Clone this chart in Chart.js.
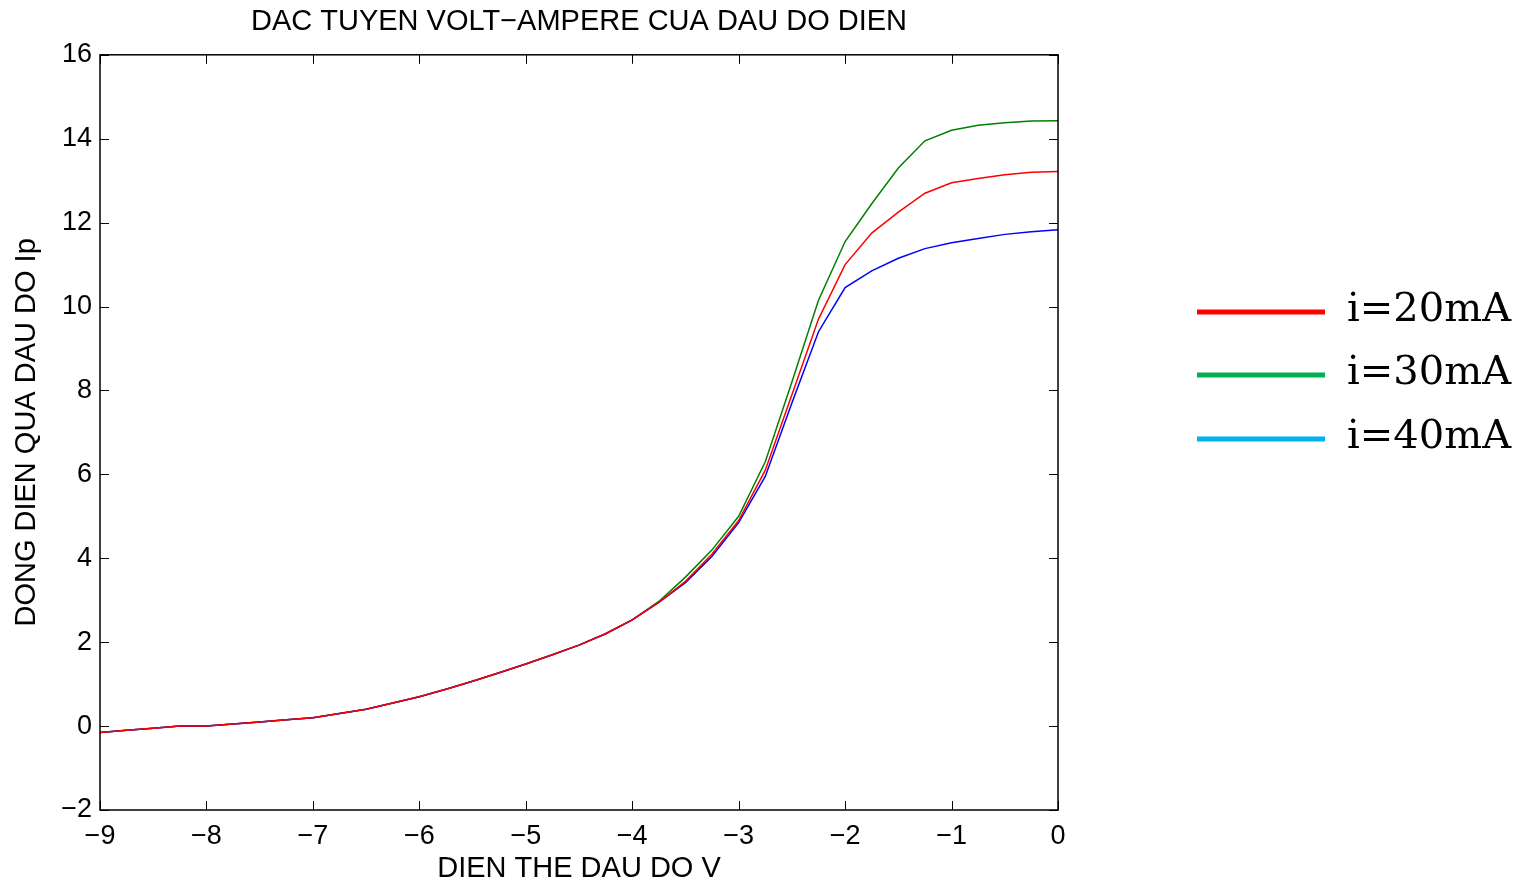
<!DOCTYPE html>
<html>
<head>
<meta charset="utf-8">
<script src="https://cdn.jsdelivr.net/npm/chart.js@4.4.0/dist/chart.umd.min.js"></script>
<style>
  html, body { margin: 0; padding: 0; background: #fff; }
  #wrap { width: 1520px; height: 886px; }
</style>
</head>
<body>
<div id="wrap"><canvas id="myChart"></canvas></div>
<script>
// dien the (V) - every 0.25 V
var voltage = [-9, -8.75, -8.5, -8.25, -8, -7.75, -7.5, -7.25, -7, -6.75, -6.5, -6.25,
  -6, -5.75, -5.5, -5.25, -5, -4.75, -4.5, -4.25, -4, -3.75, -3.5, -3.25,
  -3, -2.75, -2.5, -2.25, -2, -1.75, -1.5, -1.25, -1, -0.75, -0.5, -0.25, 0];

var ip20 = [-0.15, -0.1, -0.05, 0, 0, 0.05, 0.1, 0.15, 0.2, 0.3, 0.4, 0.55,
  0.7, 0.88, 1.07, 1.27, 1.48, 1.7, 1.93, 2.2, 2.53, 2.95, 3.45, 4.1,
  4.9, 6.1, 7.9, 9.7, 11.0, 11.75, 12.25, 12.7, 12.95, 13.05, 13.14, 13.2, 13.22];
var ip30 = [-0.15, -0.1, -0.05, 0, 0, 0.05, 0.1, 0.15, 0.2, 0.3, 0.4, 0.55,
  0.7, 0.88, 1.07, 1.27, 1.48, 1.7, 1.93, 2.2, 2.53, 2.97, 3.55, 4.2,
  5.0, 6.3, 8.2, 10.15, 11.55, 12.45, 13.3, 13.95, 14.2, 14.32, 14.38, 14.42, 14.43];
var ip40 = [-0.15, -0.1, -0.05, 0, 0, 0.05, 0.1, 0.15, 0.2, 0.3, 0.4, 0.55,
  0.7, 0.88, 1.07, 1.27, 1.48, 1.7, 1.93, 2.2, 2.53, 2.95, 3.42, 4.05,
  4.85, 5.95, 7.7, 9.4, 10.45, 10.85, 11.15, 11.38, 11.52, 11.62, 11.72, 11.78, 11.83];

var seriesNames = ['i=20mA', 'i=30mA', 'i=40mA'];
var lineColors = ['#ff0000', '#008000', '#0000ff'];
var legendColors = ['#ff0000', '#00b050', '#00b0f0'];

function pts(ys) {
  return voltage.map(function (v, i) { return { x: v, y: ys[i] }; });
}
function minus(v) {
  return String(v).replace('-', '\u2212');
}

var sansFont = '"Liberation Sans", Arial, sans-serif';

// MATLAB style box + inward ticks on all four sides
var boxPlugin = {
  id: 'box',
  afterDatasetsDraw: function (chart) {
    var ctx = chart.ctx;
    var a = chart.chartArea;
    var xs = chart.scales.x, ys = chart.scales.y;
    var len = 9;
    ctx.save();
    ctx.strokeStyle = '#000';
    ctx.lineWidth = 1.5;
    ctx.strokeRect(a.left, a.top, a.right - a.left, a.bottom - a.top);
    ctx.lineWidth = 1;
    ctx.beginPath();
    xs.ticks.forEach(function (t) {
      var px = Math.round(xs.getPixelForValue(t.value)) + 0.5;
      ctx.moveTo(px, a.bottom); ctx.lineTo(px, a.bottom - len);
      ctx.moveTo(px, a.top); ctx.lineTo(px, a.top + len);
    });
    ys.ticks.forEach(function (t) {
      var py = Math.round(ys.getPixelForValue(t.value)) + 0.5;
      ctx.moveTo(a.left, py); ctx.lineTo(a.left + len, py);
      ctx.moveTo(a.right, py); ctx.lineTo(a.right - len, py);
    });
    ctx.stroke();
    ctx.restore();
  }
};

// legend sits outside the axes on the right
var sideLegend = {
  id: 'sideLegend',
  afterDraw: function (chart) {
    var ctx = chart.ctx;
    var rows = [312, 375, 439];
    ctx.save();
    ctx.font = '40px "DejaVu Serif", serif';
    ctx.textAlign = 'left';
    ctx.textBaseline = 'alphabetic';
    seriesNames.forEach(function (name, i) {
      ctx.strokeStyle = legendColors[i];
      ctx.lineWidth = 5;
      ctx.beginPath();
      ctx.moveTo(1197, rows[i]);
      ctx.lineTo(1325, rows[i]);
      ctx.stroke();
      ctx.fillStyle = '#000';
      ctx.fillText(name, 1347, rows[i] + 9);
    });
    ctx.restore();
  }
};

var chart = new Chart(document.getElementById('myChart'), {
  type: 'line',
  data: {
    datasets: [
      { label: seriesNames[0], data: pts(ip20), borderColor: lineColors[0], order: 0 },
      { label: seriesNames[1], data: pts(ip30), borderColor: lineColors[1], order: 2 },
      { label: seriesNames[2], data: pts(ip40), borderColor: lineColors[2], order: 1 }
    ]
  },
  options: {
    responsive: true,
    maintainAspectRatio: false,
    animation: false,
    elements: {
      point: { radius: 0 },
      line: { borderWidth: 1.5, tension: 0 }
    },
    layout: { padding: { left: 0, top: 0, right: 462, bottom: 0 } },
    plugins: {
      legend: { display: false },
      tooltip: { enabled: false },
      title: {
        display: true,
        fullSize: false,
        text: 'DAC TUYEN VOLT\u2212AMPERE CUA DAU DO DIEN',
        color: '#000',
        font: { family: sansFont, size: 29, weight: 'normal' },
        padding: { top: 5, bottom: 15 }
      }
    },
    scales: {
      x: {
        type: 'linear',
        min: -9, max: 0,
        grid: { display: false, drawTicks: false },
        border: { display: false },
        ticks: {
          stepSize: 1, padding: 10, color: '#000', maxRotation: 0,
          font: { family: sansFont, size: 27 },
          callback: function (v) { return minus(v); }
        },
        title: {
          display: true, text: 'DIEN THE DAU DO V', color: '#000',
          font: { family: sansFont, size: 29 },
          padding: { top: 0, bottom: 0 }
        },
        afterFit: function (s) { s.height = 76; }
      },
      y: {
        type: 'linear',
        min: -2, max: 16,
        grid: { display: false, drawTicks: false },
        border: { display: false },
        ticks: {
          stepSize: 2, padding: 8, color: '#000',
          font: { family: sansFont, size: 27 },
          callback: function (v) { return minus(v); }
        },
        title: {
          display: true, text: 'DONG DIEN QUA DAU DO Ip', color: '#000',
          font: { family: sansFont, size: 29 },
          padding: { top: 10, bottom: 0 }
        },
        afterFit: function (s) { s.width = 100; }
      }
    }
  },
  plugins: [boxPlugin, sideLegend]
});
</script>
</body>
</html>
